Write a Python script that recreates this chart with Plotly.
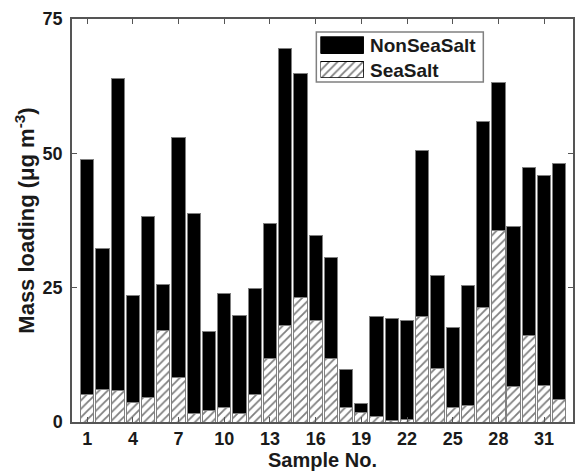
import plotly.graph_objects as go

samples = list(range(1, 33))
totals = [48.8, 32.2, 63.9, 23.6, 38.2, 25.6, 52.9, 38.8, 16.9, 23.9, 19.8, 24.8,
          36.9, 69.5, 64.9, 34.8, 30.7, 9.7, 3.5, 19.6, 19.3, 18.8, 50.5, 27.3,
          17.5, 25.4, 55.9, 63.2, 36.3, 47.4, 45.9, 48.1]
seasalt = [5.2, 6.0, 5.9, 3.7, 4.5, 17.0, 8.2, 1.6, 2.2, 2.7, 1.5, 5.2,
           11.9, 18.0, 23.1, 18.8, 11.9, 2.7, 1.75, 1.0, 0.3, 0.5, 19.7, 9.9,
           2.7, 3.0, 21.4, 35.6, 6.6, 16.1, 6.8, 4.2]
nonseasalt = [round(t - s, 2) for t, s in zip(totals, seasalt)]
x_ticks = [1, 4, 7, 10, 13, 16, 19, 22, 25, 28, 31]
y_ticks = [0, 25, 50, 75]
legend_names = ["SeaSalt", "NonSeaSalt"]

FONT = "Liberation Sans, Arial, sans-serif"
EDGE = "#808080"
HATCH = dict(shape="/", fgcolor="black", bgcolor="white", size=6, solidity=0.3)

fig = go.Figure()
fig.add_trace(go.Bar(
    x=samples, y=seasalt, name="SeaSalt", width=0.87, showlegend=False,
    marker=dict(color="white", line=dict(color=EDGE, width=1), pattern=HATCH),
))
fig.add_trace(go.Bar(
    x=samples, y=nonseasalt, name="NonSeaSalt", width=0.87, showlegend=False,
    marker=dict(color="black", line=dict(color=EDGE, width=1)),
))

# legend swatches drawn on a small overlay axis
fig.add_trace(go.Bar(
    x=[1], y=[0], orientation="h", width=0.67, xaxis="x2", yaxis="y2",
    showlegend=False, hoverinfo="skip",
    marker=dict(color="white", line=dict(color="black", width=1), pattern=HATCH),
))
fig.add_trace(go.Bar(
    x=[1], y=[1], orientation="h", width=0.67, xaxis="x2", yaxis="y2",
    showlegend=False, hoverinfo="skip",
    marker=dict(color="black", line=dict(color="black", width=1)),
))

axis_common = dict(
    ticks="inside", ticklen=5, tickcolor="#555", mirror="ticks",
    showline=True, linecolor="#555", linewidth=1.5, showgrid=False, zeroline=False,
    tickfont=dict(family=FONT, size=18, weight="bold"),
)

fig.update_layout(
    width=576, height=475,
    barmode="stack",
    paper_bgcolor="white", plot_bgcolor="white",
    margin=dict(l=72, r=1, t=19, b=53),
    font=dict(family=FONT, size=18, color="#1a1a1a"),
    showlegend=False,
    xaxis=dict(
        range=[0, 32.9], tickvals=x_ticks, ticktext=[str(v) for v in x_ticks],
        title=dict(text="<b>Sample No.</b>", font=dict(family=FONT, size=20), standoff=2),
        **axis_common,
    ),
    yaxis=dict(
        range=[0, 75], tickvals=y_ticks, ticklabelstandoff=4,
        title=dict(text="<b>Mass loading (μg m<sup>-3</sup>)</b>", font=dict(family=FONT, size=22), standoff=2),
        **axis_common,
    ),
    xaxis2=dict(domain=[0.496, 0.5825], range=[0, 1], anchor="y2", visible=False, fixedrange=True),
    yaxis2=dict(domain=[0.8542, 0.9566], range=[-0.335, 1.335], anchor="x2", visible=False, fixedrange=True),
    shapes=[dict(type="rect", xref="paper", yref="paper",
                 x0=0.4877, x1=0.821, y0=0.8436, y1=0.9677,
                 line=dict(color=EDGE, width=1.5), fillcolor="rgba(0,0,0,0)", layer="above")],
    annotations=[
        dict(text="<b>%s</b>" % legend_names[1], xref="paper", yref="paper", x=0.5905, y=0.9354,
             xanchor="left", yanchor="middle", showarrow=False,
             font=dict(family=FONT, size=19, color="#1a1a1a")),
        dict(text="<b>%s</b>" % legend_names[0], xref="paper", yref="paper", x=0.5905, y=0.8734,
             xanchor="left", yanchor="middle", showarrow=False,
             font=dict(family=FONT, size=19, color="#1a1a1a")),
    ],
)

fig.write_html("out.html", config={"displayModeBar": False},
               post_script="document.body.style.margin='0';")
